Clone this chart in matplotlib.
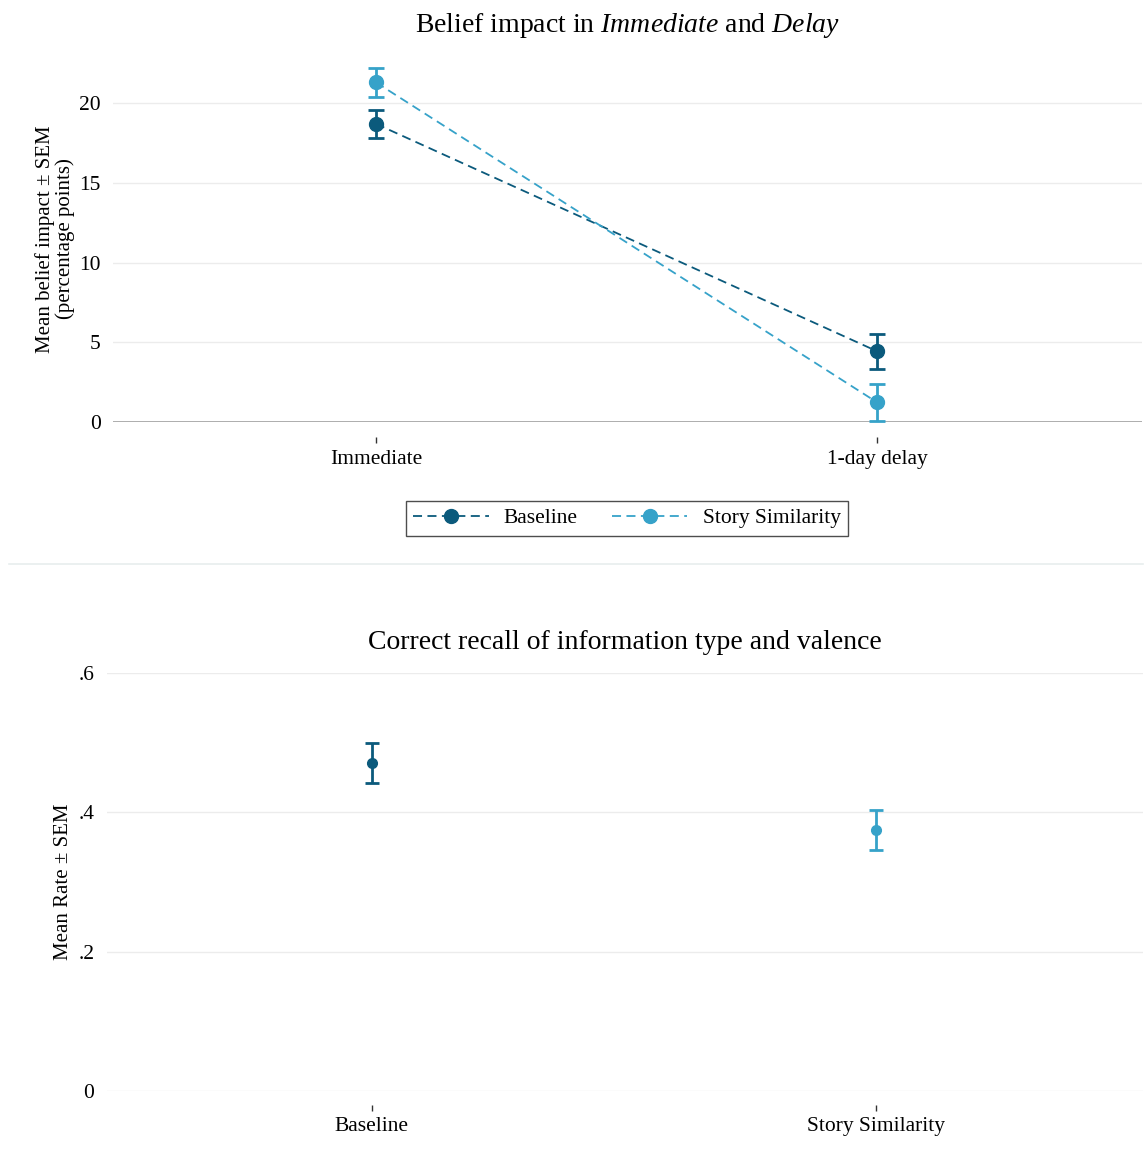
import matplotlib
matplotlib.use("Agg")
import matplotlib.pyplot as plt
from matplotlib.lines import Line2D

plt.rcParams['font.family'] = ['Liberation Serif', 'DejaVu Serif']
plt.rcParams['mathtext.fontset'] = 'custom'
plt.rcParams['mathtext.rm'] = 'Liberation Serif'
plt.rcParams['mathtext.it'] = 'Liberation Serif:italic'

# top panel data
timings = ['Immediate', '1-day delay']
groups = ['Baseline', 'Story Similarity']
impact_mean = {'Baseline': [18.7, 4.45], 'Story Similarity': [21.3, 1.25]}
impact_sem = {'Baseline': [0.9, 1.1], 'Story Similarity': [0.9, 1.15]}

# bottom panel data
recall_mean = [0.471, 0.375]
recall_sem = [0.029, 0.029]

colors = {'Baseline': '#0b5a7c', 'Story Similarity': '#36a2c9'}
grid_col = '#ececec'

fig = plt.figure(figsize=(11.45, 11.76), dpi=100)

# ---- top panel ----
ax1 = fig.add_axes([0.0987, 0.641, 0.899, 0.312])
xs = [1, 2]
for g in groups:
    ax1.errorbar(xs, impact_mean[g], yerr=impact_sem[g], color=colors[g],
                 linestyle=(0, (5, 3)), linewidth=1.3, marker='o', markersize=10,
                 capsize=6, capthick=2, elinewidth=2, zorder=3)
ax1.set_xlim(0.475, 2.53)
ax1.set_ylim(0, 23)
ax1.set_yticks([0, 5, 10, 15, 20])
ax1.set_yticklabels(['0', '5', '10', '15', '20'])
ax1.set_xticks(xs)
ax1.set_xticklabels(timings)
ax1.grid(axis='y', color=grid_col, linewidth=1)
ax1.set_axisbelow(True)
ax1.axhline(0, color='#a0a0a0', linewidth=1.2, zorder=1)
for s in ['top', 'right', 'left']:
    ax1.spines[s].set_visible(False)
ax1.spines['bottom'].set_position(('outward', 11))
ax1.spines['bottom'].set_visible(False)
ax1.tick_params(axis='y', length=0, pad=9, labelsize=15.5)
ax1.tick_params(axis='x', length=4, width=1, pad=5, labelsize=15.5, color='#333333')
ax1.set_ylabel('Mean belief impact \u00b1 SEM\n(percentage points)', fontsize=15,
               labelpad=3, linespacing=1.0)
ax1.set_title(r'Belief impact in $\mathit{Immediate}$ and $\mathit{Delay}$', fontsize=20, pad=16.5)

handles = [Line2D([], [], color=colors[g], linestyle=(0, (5, 3)), linewidth=1.3,
                  marker='o', markersize=10) for g in groups]
fig.legend(handles, groups, loc='center', bbox_to_anchor=(0.5475, 0.5593),
           ncol=2, fontsize=15.5, frameon=True, fancybox=False, edgecolor='#222222',
           handlelength=3.5, columnspacing=1.6, borderpad=0.35, handletextpad=0.7)

# divider between panels
fig.add_artist(Line2D([0.008, 0.998], [1 - 564 / 1176, 1 - 564 / 1176],
                      transform=fig.transFigure, color='#e8eeee', linewidth=1.2))

# ---- bottom panel ----
ax2 = fig.add_axes([0.0934, 0.0723, 0.9046, 0.3554])
for i, g in enumerate(groups):
    ax2.errorbar([xs[i]], [recall_mean[i]], yerr=[recall_sem[i]], color=colors[g],
                 linestyle='none', marker='o', markersize=7,
                 capsize=5, capthick=2, elinewidth=2, zorder=3)
ax2.set_xlim(0.475, 2.53)
ax2.set_ylim(0, 0.6)
ax2.set_yticks([0, 0.2, 0.4, 0.6])
ax2.set_yticklabels(['0', '.2', '.4', '.6'])
ax2.set_xticks(xs)
ax2.set_xticklabels(groups)
ax2.grid(axis='y', color=grid_col, linewidth=1)
ax2.set_axisbelow(True)
for s in ['top', 'right', 'left', 'bottom']:
    ax2.spines[s].set_visible(False)
ax2.spines['bottom'].set_position(('outward', 10))
ax2.tick_params(axis='y', length=0, pad=9, labelsize=15.5)
ax2.tick_params(axis='x', length=4, width=1, pad=5, labelsize=15.5, color='#333333')
ax2.set_ylabel('Mean Rate \u00b1 SEM', fontsize=15, labelpad=4)
ax2.set_title('Correct recall of information type and valence', fontsize=20, pad=17)

fig.savefig('out.png', dpi=100)
